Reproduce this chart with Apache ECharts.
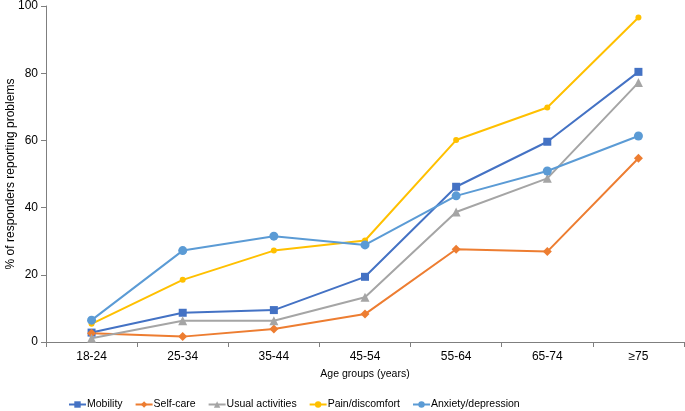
<!DOCTYPE html>
<html>
<head>
<meta charset="utf-8">
<script src="https://cdn.jsdelivr.net/npm/echarts@6/dist/echarts.min.js"></script>
<style>
  html, body { margin: 0; padding: 0; background: #fff; }
  #chart { width: 685px; height: 411px; }
</style>
</head>
<body>
<div id="chart"></div>
<script>
// 年龄组
const ageGroups = ['18-24', '25-34', '35-44', '45-54', '55-64', '65-74', '≥75']
const yTicks = [0, 20, 40, 60, 80, 100]

// 各维度报告问题的比例（%）
const mobility = [2.8, 8.7, 9.5, 19.4, 46.2, 59.6, 80.4]
const selfCare = [2.6, 1.6, 3.9, 8.3, 27.6, 26.9, 54.7]
const usualActivities = [1.1, 6.3, 6.3, 13.3, 38.7, 48.7, 77.2]
const painDiscomfort = [5.4, 18.5, 27.2, 30.2, 60.1, 69.8, 96.6]
const anxietyDepression = [6.5, 27.2, 31.5, 28.9, 43.5, 50.9, 61.3]

const font = 'Liberation Sans, Arial, sans-serif'

function makeSeries(name, data, color, symbol, size) {
  return {
    name: name,
    type: 'line',
    data: data,
    symbol: symbol,
    symbolSize: size,
    showAllSymbol: true,
    lineStyle: { width: 2, color: color },
    itemStyle: { color: color },
    emphasis: { disabled: true }
  }
}

const chart = echarts.init(document.getElementById('chart'))
chart.setOption({
  animation: false,
  textStyle: { fontFamily: font },
  legend: {
    top: 394,
    left: 63,
    itemWidth: 17,
    itemHeight: 8,
    itemGap: 12,
    textStyle: { fontSize: 10.5, color: '#000', fontFamily: font, padding: [0, 0, 0, -4] },
    data: ['Mobility', 'Self-care', 'Usual activities', 'Pain/discomfort', 'Anxiety/depression']
  },
  grid: { left: 46, right: 1, top: 6, bottom: 69, containLabel: false, outerBoundsMode: 'none' },
  xAxis: {
    type: 'category',
    data: ageGroups,
    name: 'Age groups (years)',
    nameLocation: 'middle',
    nameGap: 27,
    nameMoveOverlap: false,
    nameTextStyle: { fontSize: 10.5, color: '#000', fontFamily: font },
    axisLine: { lineStyle: { color: '#7f7f7f', width: 1 } },
    axisTick: { show: true, length: 5, lineStyle: { color: '#7f7f7f' } },
    axisLabel: { fontSize: 12, color: '#000', margin: 9, fontFamily: font }
  },
  yAxis: {
    type: 'value',
    min: yTicks[0],
    max: yTicks[yTicks.length - 1],
    interval: 20,
    name: '% of responders reporting problems',
    nameLocation: 'middle',
    nameGap: 29,
    nameMoveOverlap: false,
    nameTextStyle: { fontSize: 12, color: '#000', fontFamily: font },
    axisLine: { show: true, lineStyle: { color: '#7f7f7f', width: 1 } },
    axisTick: { show: true, length: 5, lineStyle: { color: '#7f7f7f' } },
    axisLabel: { fontSize: 12, color: '#000', margin: 8, fontFamily: font },
    splitLine: { show: false }
  },
  series: [
    makeSeries('Mobility', mobility, '#4472C4', 'rect', 8),
    makeSeries('Self-care', selfCare, '#ED7D31', 'diamond', 9),
    makeSeries('Usual activities', usualActivities, '#A5A5A5', 'triangle', 9),
    makeSeries('Pain/discomfort', painDiscomfort, '#FFC000', 'circle', 6),
    makeSeries('Anxiety/depression', anxietyDepression, '#5B9BD5', 'circle', 9)
  ]
})
</script>
</body>
</html>
